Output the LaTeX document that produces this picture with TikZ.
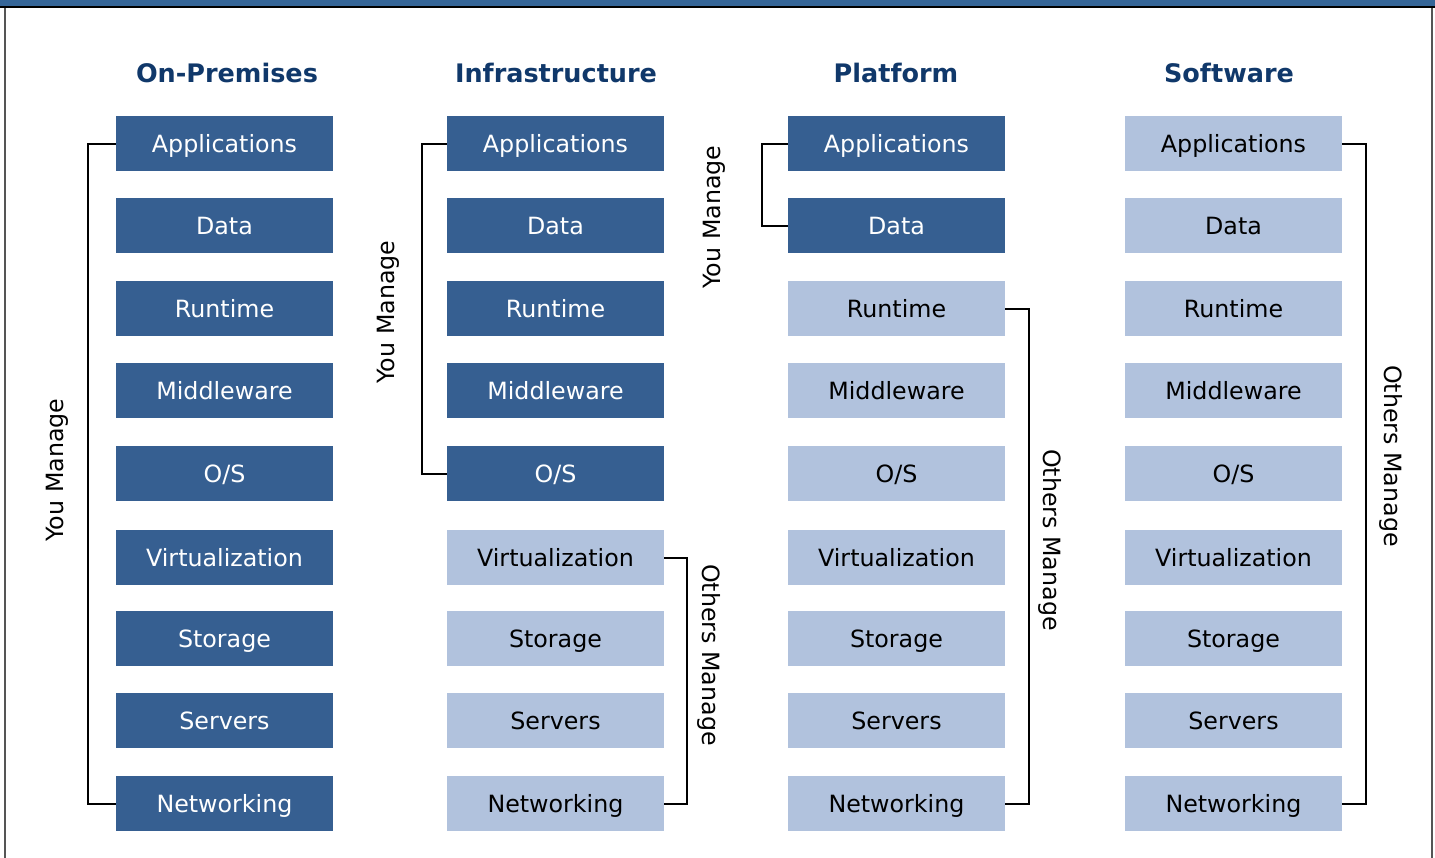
\documentclass[tikz,border=0pt]{standalone}
\usepackage{fontspec}
\setmainfont{DejaVu Sans}
\definecolor{darkbox}{RGB}{54,95,145}
\definecolor{lightbox}{RGB}{177,194,221}
\definecolor{headblue}{RGB}{16,56,106}
\definecolor{topband}{RGB}{54,102,152}
\definecolor{framegray}{RGB}{85,85,85}
\tikzset{
  layer/.style={minimum width=173.6pt, minimum height=44pt, inner sep=0pt,
    text height=13.9pt, text depth=0pt,
    font=\fontsize{19}{22}\selectfont},
  mine/.style={layer, fill=darkbox, text=white},
  theirs/.style={layer, fill=lightbox, text=black},
  head/.style={font=\fontsize{20.4}{24}\selectfont\bfseries, text=headblue},
  bracket/.style={draw=black, line width=1.6pt},
  side/.style={font=\fontsize{19}{22}\selectfont}
}
\begin{document}
\begin{tikzpicture}[y=0.80pt, x=0.8pt, yscale=-1]
  \useasboundingbox (0,0) rectangle (1435,858);
  % frame
  \fill[topband] (0,0) rectangle (1435,6);
  \draw[black, line width=1.6pt] (0,7) -- (1435,7);
  \draw[framegray, line width=1.6pt] (5,8) -- (5,858);
  \draw[framegray, line width=1.6pt] (1432,8) -- (1432,858);
  % column heads
  \node[head] (head1) at (227,73) {On-Premises};
  \node[head] (head2) at (556,73) {Infrastructure};
  \node[head] (head3) at (896,73) {Platform};
  \node[head] (head4) at (1229,73) {Software};
  % stacks
  \foreach \y/\n/\lbl in {143.5/1/Applications, 225.5/2/Data, 308.5/3/Runtime,
      390.5/4/Middleware, 473.5/5/{O/S}, 557.5/6/Virtualization,
      638.5/7/Storage, 720.5/8/Servers, 803.5/9/Networking} {
    \node[mine] (box1-\n) at (224.5,\y) {\lbl};
    \ifnum\n<6
      \node[mine] (box2-\n) at (555.5,\y) {\lbl};
    \else
      \node[theirs] (box2-\n) at (555.5,\y) {\lbl};
    \fi
    \ifnum\n<3
      \node[mine] (box3-\n) at (896.5,\y) {\lbl};
    \else
      \node[theirs] (box3-\n) at (896.5,\y) {\lbl};
    \fi
    \node[theirs] (box4-\n) at (1233.5,\y) {\lbl};
  }
  % brackets
  \draw[bracket] (box1-1.west) -- ++(-28,0) |- (box1-9.west);
  \draw[bracket] (box2-1.west) -- ++(-25,0) |- (box2-5.west);
  \draw[bracket] (box2-6.east) -- ++(23,0) |- (box2-9.east);
  \draw[bracket] (box3-1.west) -- ++(-26,0) |- (box3-2.west);
  \draw[bracket] (box3-3.east) -- ++(24,0) |- (box3-9.east);
  \draw[bracket] (box4-1.east) -- ++(24,0) |- (box4-9.east);
  % bracket labels
  \node[side, rotate=90] (you1) at (57,470) {You Manage};
  \node[side, rotate=90] (you2) at (388,312) {You Manage};
  \node[side, rotate=-90] (others2) at (709,655) {Others Manage};
  \node[side, rotate=90] (you3) at (714,217) {You Manage};
  \node[side, rotate=-90] (others3) at (1050,540) {Others Manage};
  \node[side, rotate=-90] (others4) at (1391,456) {Others Manage};
\end{tikzpicture}
\end{document}
